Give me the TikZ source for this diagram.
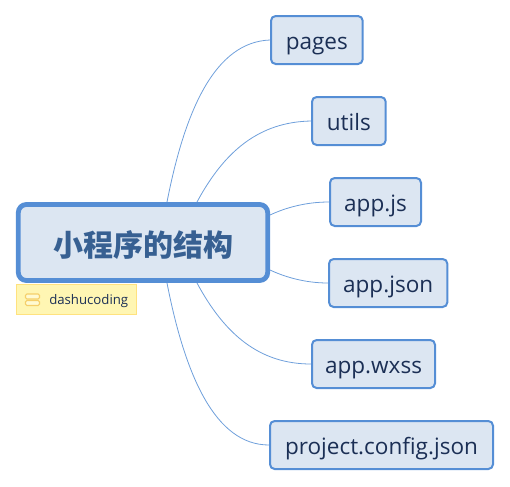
\documentclass[tikz,border=0pt]{standalone}
\usepackage{fontspec}
\setmainfont{Open Sans}
\newfontfamily\cjk{Noto Sans CJK SC}
\usetikzlibrary{calc,positioning}
\definecolor{boxline}{HTML}{558ED5}
\definecolor{boxfill}{HTML}{DCE6F2}
\definecolor{boxtext}{HTML}{1B2F55}
\definecolor{roottext}{HTML}{376092}
\definecolor{notefill}{HTML}{FFF6B3}
\definecolor{noteline}{HTML}{FFE27F}
\definecolor{noteicon}{HTML}{F5CF6A}
\tikzset{
  topic/.style={draw=boxline,fill=boxfill,text=boxtext,line width=1.5pt,rounded corners=3.5pt,
    minimum height=36pt,inner sep=0pt,anchor=west,text height=14pt,text depth=0pt,
    font=\fontsize{16.9pt}{20pt}\selectfont},
  root/.style={draw=boxline,fill=boxfill,text=roottext,line width=3.6pt,rounded corners=6pt,
    minimum width=187pt,minimum height=57pt,inner sep=0pt,text height=21.5pt,text depth=0pt,
    font=\cjk\bfseries\fontsize{22.5pt}{26pt}\selectfont},
  note/.style={draw=noteline,fill=notefill,text=boxtext,line width=.6pt,minimum width=90pt,
    minimum height=22.5pt,inner sep=0pt,text height=8.2pt,text depth=0pt,
    font=\fontsize{9.9pt}{12pt}\selectfont},
  link/.style={draw=boxline!85,line width=.6pt},
  noteglyph/.style={draw=noteicon,fill=notefill!60,line width=.8pt,rounded corners=1pt}
}
\begin{document}
\begin{tikzpicture}[x=0.75pt,y=-0.75pt]
  \useasboundingbox (0,0) rectangle (510,486);
  \node[root] (main) at (143,242.5) {小程序的结构};
  \node[note,anchor=north west] (memo) at (16,284) {\hspace{18.5pt}dashucoding};
  \node[topic,minimum width=68.75pt] (pages) at (270,40) {pages};
  \node[topic,minimum width=55.25pt] (utils) at (311,121) {utils};
  \node[topic,minimum width=68.25pt] (appjs) at (329,202) {app.js};
  \node[topic,minimum width=88.75pt] (appjson) at (328,283) {app.json};
  \node[topic,minimum width=92.25pt] (appwxss) at (311,364) {app.wxss};
  \node[topic,minimum width=167.25pt] (project) at (269,445) {project.config.json};
  % points on the border of the main box
  \coordinate (t1) at (167,202);
  \coordinate (t2) at (197,202);
  \coordinate (r1) at (270,215);
  \coordinate (r2) at (270,270);
  \coordinate (b2) at (197,283);
  \coordinate (b1) at (167,283);
  \draw[link] (t1) .. controls (185,110) and (215,42) .. (pages.west);
  \draw[link] (t2) .. controls (225,150) and (260,122) .. (utils.west);
  \draw[link] (r1) .. controls (285,208) and (305,202) .. (appjs.west);
  \draw[link] (r2) .. controls (285,277) and (305,283) .. (appjson.west);
  \draw[link] (b2) .. controls (225,335) and (260,364) .. (appwxss.west);
  \draw[link] (b1) .. controls (185,375) and (215,445) .. (project.west);
  % icon of the note
  \draw[noteglyph] (25.5,294) rectangle (39.5,299);
  \draw[noteglyph] (25.5,300.5) rectangle (39.5,305.5);
\end{tikzpicture}
\end{document}
